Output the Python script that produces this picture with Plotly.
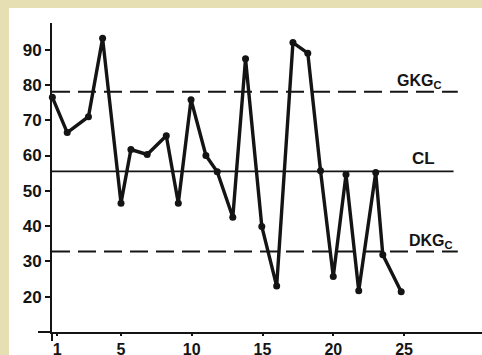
import plotly.graph_objects as go

# ---- data ----
sample_x = [0.15, 1.2, 2.7, 3.7, 5.0, 5.7, 6.85, 8.2, 9.05, 9.95, 11.0, 11.8, 12.9,
            13.8, 14.95, 16.0, 17.15, 18.2, 19.1, 20.0, 20.9, 21.8, 23.0, 23.5, 24.8]
sample_y = [76.5, 66.5, 71.0, 93.2, 46.5, 61.7, 60.3, 65.6, 46.5, 75.8, 60.0, 55.4, 42.5,
            87.4, 39.9, 23.0, 92.0, 89.0, 55.7, 25.7, 54.6, 21.7, 55.2, 31.9, 21.4]

ucl_value = 78.1   # GKG_C
cl_value = 55.5    # CL
lcl_value = 32.8   # DKG_C
limit_x_start = 0.124
ucl_x_end = 28.8
cl_x_end = 28.5
lcl_x_end = 28.8

x_tick_vals = [0.5, 5, 10, 15, 20, 25]
x_tick_text = ["1", "5", "10", "15", "20", "25"]
y_tick_vals = [20, 30, 40, 50, 60, 70, 80, 90]
y_tick_text = ["20", "30", "40", "50", "60", "70", "80", "90"]

label_ucl = "GKG<sub>C</sub>"
label_cl = "CL"
label_lcl = "DKG<sub>C</sub>"
label_ucl_x = 26.1
label_cl_x = 26.35
label_lcl_x = 26.9

# ---- styling ----
INK = "#141414"
BEIGE = "#E7DFB4"
FONT = "Liberation Sans, Arial, sans-serif"

W, H = 482, 355
ML, MR, MT, MB = 52, 0, 23, 23
PW, PH = W - ML - MR, H - MT - MB

def px_to_paper_x(px):
    return (px - ML) / PW

def px_to_paper_y(py):
    return (H - MB - py) / PH

fig = go.Figure()

fig.add_trace(go.Scatter(x=[limit_x_start, ucl_x_end], y=[ucl_value, ucl_value], mode="lines",
                         line=dict(color=INK, width=2, dash="18px,8px"), hoverinfo="skip",
                         showlegend=False, cliponaxis=False))
fig.add_trace(go.Scatter(x=[limit_x_start, cl_x_end], y=[cl_value, cl_value], mode="lines",
                         line=dict(color=INK, width=1.6), hoverinfo="skip",
                         showlegend=False, cliponaxis=False))
fig.add_trace(go.Scatter(x=[limit_x_start, lcl_x_end], y=[lcl_value, lcl_value], mode="lines",
                         line=dict(color=INK, width=2, dash="18px,8px"), hoverinfo="skip",
                         showlegend=False, cliponaxis=False))

fig.add_trace(go.Scatter(x=sample_x, y=sample_y, mode="lines+markers",
                         line=dict(color=INK, width=3.4),
                         marker=dict(color=INK, size=7),
                         showlegend=False, cliponaxis=False))

shapes = [
    # white sheet of the scanned page
    dict(type="rect", xref="paper", yref="paper", layer="below",
         x0=px_to_paper_x(9), x1=px_to_paper_x(W + 2),
         y0=px_to_paper_y(H + 2), y1=px_to_paper_y(8),
         fillcolor="white", line=dict(width=0)),
    # axis overhangs (crossing axes)
    dict(type="line", xref="paper", yref="paper",
         x0=px_to_paper_x(38), x1=0, y0=0, y1=0, line=dict(color=INK, width=2)),
    dict(type="line", xref="paper", yref="paper",
         x0=0, x1=0, y0=0, y1=px_to_paper_y(341), line=dict(color=INK, width=2)),
]

annotations = [
    dict(text=label_ucl, x=label_ucl_x, y=ucl_value, xref="x", yref="y",
         xanchor="center", yanchor="bottom", yshift=-1, showarrow=False,
         font=dict(family=FONT, size=16, color=INK, weight="bold")),
    dict(text=label_cl, x=label_cl_x, y=cl_value, xref="x", yref="y",
         xanchor="center", yanchor="bottom", yshift=1, showarrow=False,
         font=dict(family=FONT, size=17, color=INK, weight="bold")),
    dict(text=label_lcl, x=label_lcl_x, y=lcl_value, xref="x", yref="y",
         xanchor="center", yanchor="bottom", yshift=-1, showarrow=False,
         font=dict(family=FONT, size=16, color=INK, weight="bold")),
]

fig.update_layout(
    width=W, height=H,
    margin=dict(l=ML, r=MR, t=MT, b=MB, pad=0, autoexpand=False),
    paper_bgcolor=BEIGE,
    plot_bgcolor="rgba(0,0,0,0)",
    shapes=shapes,
    annotations=annotations,
    showlegend=False,
    xaxis=dict(range=[limit_x_start, 30.51], showgrid=False, zeroline=False,
               automargin=False,
               showline=True, linecolor=INK, linewidth=2,
               tickmode="array", tickvals=x_tick_vals, ticktext=x_tick_text,
               ticks="outside", ticklen=2, tickwidth=1.5, tickcolor=INK,
               tickfont=dict(family=FONT, size=16, color=INK, weight="bold")),
    yaxis=dict(range=[10, 97.55], showgrid=False, zeroline=False,
               automargin=False,
               showline=True, linecolor=INK, linewidth=2,
               tickmode="array", tickvals=y_tick_vals, ticktext=y_tick_text,
               ticks="outside", ticklen=5, tickwidth=1.5, tickcolor=INK,
               tickfont=dict(family=FONT, size=17, color=INK, weight="bold")),
)

fig.write_html("out.html")
